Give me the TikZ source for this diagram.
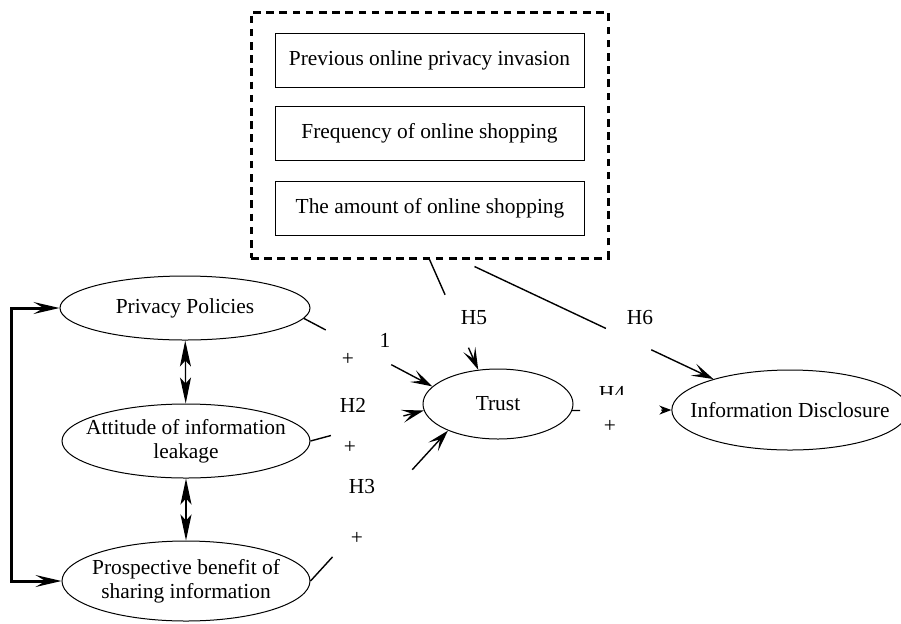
\documentclass[tikz,border=0pt]{standalone}
\usepackage{fontspec}
\setmainfont{Liberation Serif}
\usetikzlibrary{shapes.geometric,arrows.meta,calc}

\begin{document}
\begin{tikzpicture}[x=0.5pt, y=-0.5pt, every node/.style={font=\fontsize{10.7}{12}\selectfont},
  var/.style={draw, ellipse, line width=0.5pt, align=center, inner xsep=-8pt, inner ysep=-6pt},
  ctrl/.style={draw, line width=0.5pt, minimum width=154.5pt, minimum height=27pt},
  conn/.style={line width=0.7pt},
  arr/.style={-{Stealth[length=11pt, width=6.5pt, inset=5pt]}},
  dbl/.style={line width=0.6pt, {Stealth[length=13pt, width=5.5pt, inset=3pt]}-{Stealth[length=13pt, width=5.5pt, inset=3pt]}},
  loop/.style={line width=1.5pt, {Stealth[length=13pt, width=6pt, inset=5pt, line width=0.7pt]}-{Stealth[length=13pt, width=6pt, inset=5pt, line width=0.7pt]}}]
\useasboundingbox (0,0) rectangle (901,623);

% control variables
\node[draw, line width=1.5pt, dash pattern=on 3.8pt off 2.8pt, minimum width=178.5pt, minimum height=123pt] (ctl) at (429.5,135) {};
\node[ctrl] (c1) at (429.5,60) {Previous online privacy invasion};
\node[ctrl] (c2) at (429.5,133.5) {Frequency of online shopping};
\node[ctrl] (c3) at (430,208.5) {The amount of online shopping};

% constructs
\node[var, minimum width=125pt, minimum height=32pt] (pp) at (185,308) {Privacy Policies};
\node[var, minimum width=124pt, minimum height=37pt] (al) at (186,441) {Attitude of information\\leakage};
\node[var, minimum width=124pt, minimum height=40pt] (pb) at (186,581) {Prospective benefit of\\sharing information};
\node[var, minimum width=75pt, minimum height=35pt] (tr) at (498,404) {Trust};
\node[var, minimum width=112pt, minimum height=40pt] (id) at (790,410) {Information Disclosure};

% correlations
\draw[dbl] (pp) -- (al);
\draw[dbl] (al) -- (pb);
\draw[loop] (pp.west) -- ++(-48,0) |- (pb.west);

% hypotheses
\draw[conn] (pp.-5) -- ($(pp.-5)!.17!(tr.165)$);
\draw[conn, arr] ($(pp.-5)!.68!(tr.165)$) -- (tr.165);
\draw[conn] (al.east) -- ($(al.east)!.18!(tr.185)$);
\draw[conn, arr] ($(al.east)!.82!(tr.185)$) -- (tr.185);
\draw[conn] (pb.east) -- ($(pb.east)!.16!(tr.208)$);
\draw[conn, arr] ($(pb.east)!.74!(tr.208)$) -- (tr.208);
\draw[conn] (ctl.south) -- ($(ctl.south)!.32!(tr.120)$);
\draw[conn, arr] ($(ctl.south)!.8!(tr.120)$) -- (tr.120);
\coordinate (h6s) at ($(ctl.south)+(45,7)$);
\draw[conn] (h6s) -- ($(h6s)!.55!(id.158)$);
\draw[conn, arr] ($(h6s)!.74!(id.158)$) -- (id.158);
\draw[conn] (tr.-5) -- ($(tr.-5)!.08!(id.west)$);
\draw[conn, -{Stealth[length=6pt, width=4.5pt]}] ($(tr.-5)!.9!(id.west)$) -- (id.west);

% labels
\node (h1) at (385,340) {1};
\node (s1) at (348,359) {+};
\node (h2) at (353,405) {H2};
\node (s2) at (350,447) {+};
\node (h3) at (362,487) {H3};
\node (s3) at (357,538) {+};
\node (h5) at (474,318) {H5};
\node (h6) at (640,318) {H6};
\node (h4) at (612,393) {H4};
\node[fill=white, inner sep=0pt, minimum width=16pt, minimum height=31pt] (s4) at (610,426) {+};
\end{tikzpicture}
\end{document}
